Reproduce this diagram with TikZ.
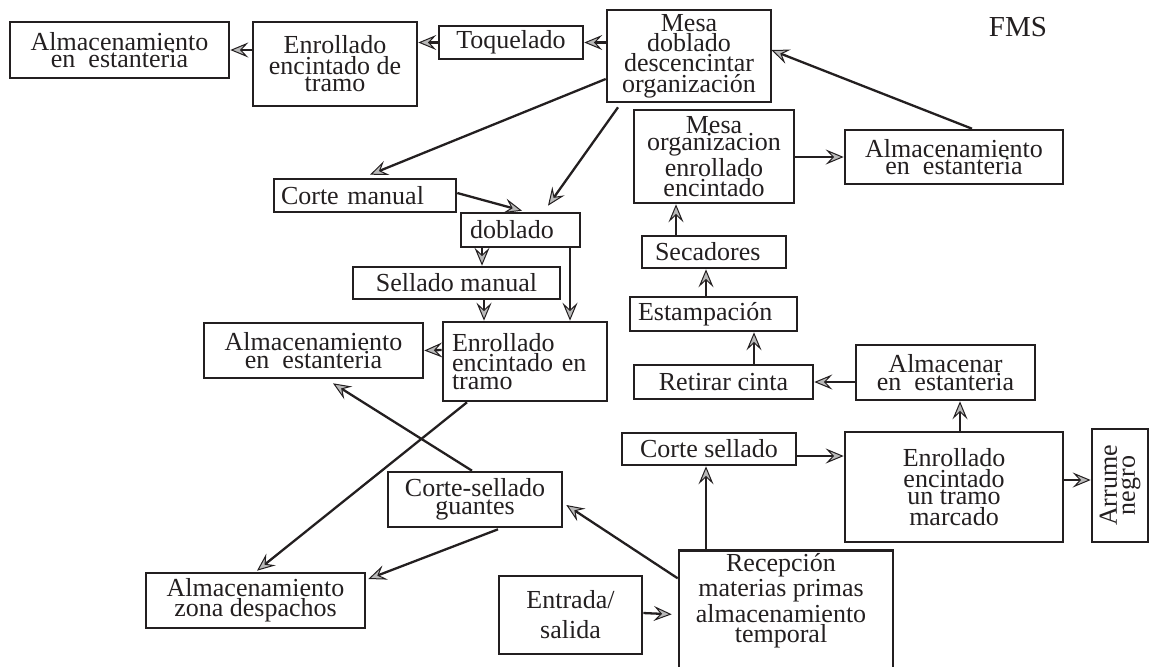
\documentclass[tikz,border=0pt]{standalone}
\usepackage{fontspec}
\setmainfont{Liberation Serif}
\usetikzlibrary{arrows.meta,calc}
\definecolor{ink}{HTML}{231F20}
\begin{document}
\begin{tikzpicture}[x=0.5pt,y=-0.5pt,
  box/.style={draw=ink, line width=1.3pt, inner sep=0pt, align=center, text=ink,
    font=\fontsize{13}{8.8}\selectfont},
  lbox/.style={box, align=left},
  txt/.style={inner sep=0pt, align=center, text=ink, font=\fontsize{13}{9}\selectfont},
  arr/.style={draw=ink, line width=1.15pt,
    -{Stealth[length=9pt,width=7.5pt,inset=3.5pt,fill=gray!55,line width=0.5pt]}},
]
\useasboundingbox (0,0) rectangle (1150,666);
\clip (0,0) rectangle (1150,666);

% top row
\node[box, minimum width=109.5pt, minimum height=28pt] (a1) at (119.5,50) {Almacenamiento\\en\ \ estanteria};
\node[box, minimum width=82pt, minimum height=42pt] (e1) at (335,64) {Enrollado\\encintado de\\tramo};
\node[box, minimum width=72pt, minimum height=16.5pt] (toq) at (511,42.5) {Toquelado};
\node[box, minimum width=82pt, minimum height=46pt] (mesa) at (689,56) {Mesa\\doblado\\descencintar\\organización};
\node[txt, font=\fontsize{14.5}{16}\selectfont] (fms) at (1018,27) {FMS};

% right column
\node[box, minimum width=109pt, minimum height=27pt] (a2) at (954,157) {Almacenamiento\\en\ \ estanteria};
\node[box, minimum width=80pt, minimum height=46.5pt] (morg) at (714,156.5) {Mesa\\organizacion\\enrollado\\encintado};
\node[lbox, text width=59pt, inner xsep=6.5pt, minimum height=16pt] (sec) at (714,252) {Secadores};
\node[lbox, text width=75.5pt, inner xsep=4pt, minimum height=17pt] (est) at (713.5,314) {Estampación};
\node[box, minimum width=89.5pt, minimum height=17pt] (ret) at (723.5,382) {Retirar cinta};
\node[box, minimum width=89.5pt, minimum height=27.5pt] (alm) at (945.5,372.5) {Almacenar\\en\ \ estanteria};
\node[box, minimum width=87pt, minimum height=16pt] (cs) at (709,449) {Corte sellado};
\node[box, minimum width=109pt, minimum height=55pt] (e3) at (954,487) {Enrollado\\encintado\\un tramo\\marcado};
\node[box, minimum width=28pt, minimum height=56.5pt] (arrume) at (1120,485.5) {};
\node[txt, rotate=90] (arrumetxt) at (arrume.center) {Arrume\\negro};

% middle column
\node[lbox, text width=84pt, inner xsep=3.5pt, minimum height=16.5pt] (cm) at (365,195.5) {Corte manual};
\node[lbox, text width=50.5pt, inner xsep=4.5pt, minimum height=17pt] (dob) at (520.5,230) {doblado};
\node[box, minimum width=103.5pt, minimum height=16pt] (sel) at (456.5,283) {Sellado manual};
\node[lbox, text width=73pt, inner xsep=4.5pt, minimum height=39.5pt] (e2) at (525,361.5) {Enrollado\\encintado en\\tramo};
\node[box, minimum width=109.5pt, minimum height=27.5pt] (a3) at (313.5,350.5) {Almacenamiento\\en\ \ estanteria};

% bottom
\node[box, minimum width=87pt, minimum height=27.5pt] (gua) at (475,499.5) {Corte-sellado\\guantes};
\node[box, minimum width=109.5pt, minimum height=27.5pt] (desp) at (255.5,600.5) {Almacenamiento\\zona despachos};
\node[box, minimum width=71.5pt, minimum height=39pt, font=\fontsize{13}{15}\selectfont] (ent) at (570.5,615) {Entrada/\\salida};
\node[box, anchor=north, minimum width=107pt, minimum height=80pt] (rec) at (786,549) {};
\node[txt] (rectxt) at (781,601) {Recepción\\materias primas\\almacenamiento\\temporal};

% connectors
\draw[arr] ($(e1.west)+(0,-14)$) -- (a1.east);
\draw[arr] (toq.west) -- ($(e1.east)+(0,-21.5)$);
\draw[arr] ($(mesa.west)+(0,-13.5)$) -- (toq.east);
\draw[arr] ($(a2.north)+(18,0)$) -- ($(mesa.east)+(-1,-6)$);
\draw[arr] (morg.east |- a2.west) -- (a2.west);
\draw[arr] ($(sec.north)+(-38,0)$) -- ($(morg.south)+(-38,0)$);
\draw[arr] ($(est.north)+(-7.5,0)$) -- ($(sec.south)+(-8,0)$);
\draw[arr] ($(ret.north)+(30.5,0)$) -- ($(est.south)+(40.5,0)$);
\draw[arr] ($(alm.west)+(0,9.5)$) -- (ret.east);
\draw[arr] ($(e3.north)+(6,0)$) -- ($(alm.south)+(14.5,0)$);
\draw[arr] ($(e3.east)+(0,-7)$) -- ($(arrume.west)+(0,-5.5)$);
\draw[arr] ($(cs.east)+(0,7)$) -- ($(e3.west)+(0,-31)$);
\draw[arr] ($(rec.north)+(-80,0)$) -- ($(cs.south)+(-3,0)$);
\draw[arr] ($(rec.west)+(0,-52)$) -- ($(gua.east)+(3,5.5)$);
\draw[arr] ($(ent.east)+(0,-2)$) -- ($(rec.west)+(-6,-16)$);
\draw[arr] ($(e2.south)+(-58,0)$) -- ($(desp.north)+(1.5,-1)$);
\draw[arr] ($(gua.south)+(23,1)$) -- ($(desp.east)+(2,-21.5)$);
\draw[arr] ($(gua.north)+(-3,0)$) -- ($(a3.south)+(19.5,4)$);
\draw[arr] ($(mesa.west)+(0,23)$) -- ($(cm.north)+(5,-3)$);
\draw[arr] ($(mesa.south)+(-71,4)$) -- ($(dob.north)+(27.5,-6)$);
\draw[arr] ($(cm.east)+(0,-2.5)$) -- ($(dob.north)+(1.5,-1)$);
\draw[arr] ($(dob.south)+(-38.5,0)$) -- ($(sel.north)+(25.5,0)$);
\draw[arr] ($(dob.south)+(49.5,0)$) -- ($(e2.north)+(45,0)$);
\draw[arr] ($(sel.south)+(27.5,0)$) -- ($(e2.north)+(-41,0)$);
\draw[arr] ($(e2.west)+(0,-11.5)$) -- (a3.east);
\end{tikzpicture}
\end{document}
